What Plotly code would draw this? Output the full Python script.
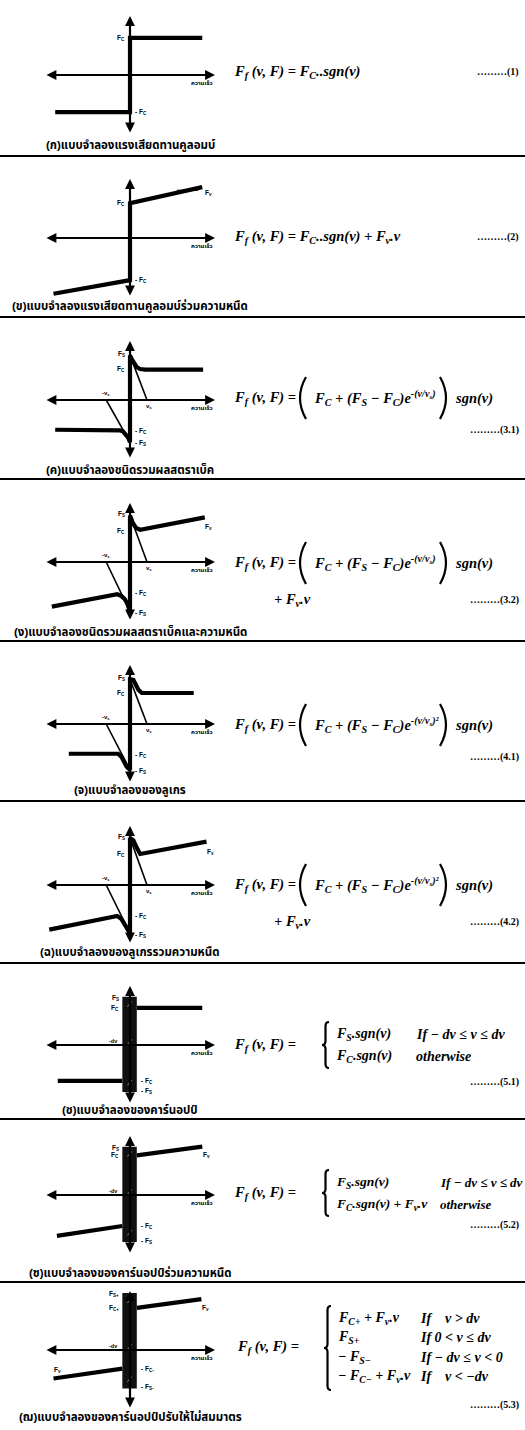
import plotly.graph_objects as go

W, H = 525, 1430

# ---------------------------------------------------------------- data
# velocity (v) and friction force (f) of every model, normalised units
coulomb_v = [-0.88, 0.0, 0.0, 0.85]
coulomb_f = [-0.60, -0.60, 0.60, 0.60]

viscous_v = [-0.90, 0.0, 0.0, 0.85]
viscous_f = [-0.90, -0.68, 0.56, 0.82]

stribeck_v = [-0.88, -0.20, -0.12, -0.08, -0.05, -0.02, 0.0, 0.0, 0.02, 0.05, 0.08, 0.12, 0.18, 0.86]
stribeck_f = [-0.48, -0.48, -0.49, -0.51, -0.55, -0.61, -0.68, 0.72, 0.66, 0.58, 0.53, 0.50, 0.49, 0.49]

stribeck_visc_v = [-0.92, -0.15, -0.10, -0.06, -0.03, 0.0, 0.0, 0.03, 0.07, 0.12, 0.88]
stribeck_visc_f = [-0.72, -0.52, -0.55, -0.60, -0.68, -0.80, 0.75, 0.64, 0.55, 0.52, 0.72]

lugre_v = [-0.72, -0.14, -0.10, -0.07, -0.04, 0.0, 0.0, 0.04, 0.07, 0.10, 0.14, 0.75]
lugre_f = [-0.48, -0.48, -0.53, -0.61, -0.69, -0.74, 0.72, 0.71, 0.64, 0.55, 0.50, 0.50]

lugre_visc_v = [-0.95, -0.15, -0.10, -0.06, -0.03, 0.0, 0.0, 0.04, 0.08, 0.12, 0.90]
lugre_visc_f = [-0.72, -0.50, -0.55, -0.65, -0.73, -0.78, 0.76, 0.72, 0.60, 0.50, 0.70]

# Stribeck velocity construction lines (tangent at v = 0)
tangent_pos_v = [0.0, 0.20]
tangent_neg_v = [-0.28, 0.0]

# Karnopp models: stick band and slip branches
karnopp_band_v = [-0.09, 0.08]
karnopp_band_f = [-0.76, 0.78]
karnopp_neg_v = [-0.85, -0.09]
karnopp_neg_f = [-0.58, -0.58]
karnopp_pos_v = [0.08, 0.85]
karnopp_pos_f = [0.60, 0.60]

karnopp_visc_neg_v = [-0.86, -0.09]
karnopp_visc_neg_f = [-0.66, -0.50]
karnopp_visc_pos_v = [0.08, 0.85]
karnopp_visc_pos_f = [0.64, 0.78]

asym_band_f = [-0.62, 0.92]
asym_neg_v = [-0.90, -0.09]
asym_neg_f = [-0.46, -0.30]
asym_pos_v = [0.08, 0.84]
asym_pos_f = [0.68, 0.82]

captions = [
    "(ก)แบบจำลองแรงเสียดทานคูลอมบ์",
    "(ข)แบบจำลองแรงเสียดทานคูลอมบ์ร่วมความหนืด",
    "(ค)แบบจำลองชนิดรวมผลสตราเบ็ค",
    "(ง)แบบจำลองชนิดรวมผลสตราเบ็คและความหนืด",
    "(จ)แบบจำลองของลูเกร",
    "(ฉ)แบบจำลองของลูเกรรวมความหนืด",
    "(ช)แบบจำลองของคาร์นอปป์",
    "(ซ)แบบจำลองของคาร์นอปป์ร่วมความหนืด",
    "(ฌ)แบบจำลองของคาร์นอปป์ปรับให้ไม่สมมาตร",
]
eq_numbers = ["(1)", "(2)", "(3.1)", "(3.2)", "(4.1)", "(4.2)", "(5.1)", "(5.2)", "(5.3)"]

# ---------------------------------------------------------------- layout helpers
AXIS_Y = [75, 238, 400, 562, 724, 885, 1045, 1195, 1350]   # pixel row of each v-axis
SEPS = [156, 317, 479, 641, 801, 963, 1119, 1282]
CAPTION_BOTTOM = SEPS + [1426]
HALF = 62
SERIF = "Liberation Serif"
SANS = "Liberation Sans, Noto Sans Thai, Noto Sans, DejaVu Sans"


def px(x):
    return x / W


def py(y):
    return 1 - y / H


fig = go.Figure()
annotations = []
shapes = []
layout_axes = {}


def ax_names(i):
    return ("x" if i == 0 else f"x{i + 1}", "y" if i == 0 else f"y{i + 1}")


for i, ay in enumerate(AXIS_Y):
    xr, yr = ax_names(i)
    xk = "xaxis" if i == 0 else f"xaxis{i + 1}"
    yk = "yaxis" if i == 0 else f"yaxis{i + 1}"
    layout_axes[xk] = dict(domain=[px(45), px(215)], range=[-1, 1], visible=False,
                           anchor=yr, fixedrange=True)
    layout_axes[yk] = dict(domain=[py(ay + HALF), py(ay - HALF)], range=[-1, 1],
                           visible=False, anchor=xr, fixedrange=True)
    # double-headed axes
    annotations.append(dict(x=1.0, y=0, ax=-1.0, ay=0, xref=xr, yref=yr, axref=xr, ayref=yr,
                            text="", showarrow=True, arrowhead=2, arrowside="end+start",
                            arrowwidth=2.2, arrowsize=0.9, arrowcolor="black"))
    annotations.append(dict(x=0, y=0.95, ax=0, ay=-0.95, xref=xr, yref=yr, axref=xr, ayref=yr,
                            text="", showarrow=True, arrowhead=2, arrowside="end+start",
                            arrowwidth=2.2, arrowsize=0.9, arrowcolor="black"))
    annotations.append(dict(x=0.02, y=1.03, xref=xr, yref=yr, text="<b>แรงเสียดทาน</b>",
                            showarrow=False, font=dict(family=SANS, size=6, color="black"),
                            xanchor="center", yanchor="bottom"))
    annotations.append(dict(x=1.0, y=-0.05, xref=xr, yref=yr, text="<b>ความเร็ว</b>",
                            showarrow=False, font=dict(family=SANS, size=6, color="black"),
                            xanchor="right", yanchor="top"))
    # caption
    annotations.append(dict(x=px(130), y=py(CAPTION_BOTTOM[i] - 1), xref="paper", yref="paper",
                            text="<b>" + captions[i] + "</b>", showarrow=False,
                            xanchor="center", yanchor="bottom",
                            font=dict(family=SANS, size=11.5, color="black")))


def curve(i, v, f, width=4.2):
    xr, yr = ax_names(i)
    fig.add_trace(go.Scatter(x=v, y=f, xaxis=xr, yaxis=yr, mode="lines",
                             line=dict(color="black", width=width), showlegend=False,
                             hoverinfo="skip"))


def label(i, x, y, s, anchor="center", size=6.5):
    xr, yr = ax_names(i)
    annotations.append(dict(x=x, y=y, xref=xr, yref=yr, text="<b>" + s + "</b>",
                            showarrow=False, xanchor=anchor,
                            font=dict(family=SANS, size=size, color="black")))


# (ก) Coulomb
curve(0, coulomb_v, coulomb_f)
label(0, -0.04, coulomb_f[-1], "F<sub>C</sub>", "right")
label(0, 0.04, coulomb_f[0], "- F<sub>C</sub>", "left")

# (ข) Coulomb + viscous
curve(1, viscous_v, viscous_f)
curve(1, [0.55, 0.80, 0.80], [0.77, 0.77, 0.81], width=1)
label(1, -0.04, viscous_f[2], "F<sub>C</sub>", "right")
label(1, 0.04, viscous_f[1], "- F<sub>C</sub>", "left")
label(1, 0.86, 0.72, "F<sub>v</sub>", "left")

# (ค) (ง) (จ) (ฉ) Stribeck-type models
for i, v, f in [(2, stribeck_v, stribeck_f), (3, stribeck_visc_v, stribeck_visc_f),
                (4, lugre_v, lugre_f), (5, lugre_visc_v, lugre_visc_f)]:
    curve(i, v, f)
    k = v.index(0.0)
    fs_neg, fs_pos = f[k], f[k + 1]
    curve(i, tangent_pos_v, [fs_pos, 0.0], width=1.6)
    curve(i, tangent_neg_v, [0.0, fs_neg], width=1.6)
    label(i, -0.04, fs_pos + 0.02, "F<sub>S</sub>", "right")
    label(i, -0.04, 0.50, "F<sub>C</sub>", "right")
    label(i, 0.04, -0.50, "- F<sub>C</sub>", "left")
    label(i, 0.04, fs_neg - 0.02, "- F<sub>S</sub>", "left")
    label(i, tangent_pos_v[1] + 0.02, -0.1, "v<sub>s</sub>", size=6)
    label(i, tangent_neg_v[0], 0.1, "-v<sub>s</sub>", size=6)
    if i in (3, 5):
        label(i, v[-1] - 0.02, f[-1] - 0.16, "F<sub>v</sub>", "left")

# (ช) (ซ) (ฌ) Karnopp models
karnopp_sets = [
    (6, karnopp_band_f, karnopp_neg_v, karnopp_neg_f, karnopp_pos_v, karnopp_pos_f, False),
    (7, karnopp_band_f, karnopp_visc_neg_v, karnopp_visc_neg_f, karnopp_visc_pos_v, karnopp_visc_pos_f, True),
    (8, asym_band_f, asym_neg_v, asym_neg_f, asym_pos_v, asym_pos_f, True),
]
for i, band_f, nv, nf, pv, pf, visc in karnopp_sets:
    xr, yr = ax_names(i)
    shapes.append(dict(type="rect", xref=xr, yref=yr, x0=karnopp_band_v[0], x1=karnopp_band_v[1],
                       y0=band_f[0], y1=band_f[1], fillcolor="#111111", line=dict(width=0)))
    for hy in (band_f[1] - 0.12, 0.05, band_f[0] + 0.15):
        shapes.append(dict(type="line", xref=xr, yref=yr, x0=-0.03, x1=0.02, y0=hy - 0.04,
                           y1=hy + 0.04, line=dict(color="#9a9a9a", width=1)))
    curve(i, nv, nf)
    curve(i, pv, pf)
    suf_p = "+" if i == 8 else ""
    suf_n = "-" if i == 8 else ""
    label(i, -0.11, band_f[1] - 0.02, "F<sub>S" + suf_p + "</sub>", "right")
    label(i, -0.11, pf[0], "F<sub>C" + suf_p + "</sub>", "right")
    label(i, 0.11, nf[1], "- F<sub>C" + suf_n + "</sub>", "left")
    label(i, 0.11, band_f[0] + 0.02, "- F<sub>S" + suf_n + "</sub>", "left")
    label(i, -0.2, 0.07, "-dv", size=5.5)
    if visc:
        label(i, pv[1] - 0.02, pf[1] - 0.14, "F<sub>v</sub>", "left")
    if i == 8:
        label(i, nv[0] - 0.02, nf[0] + 0.14, "F<sub>v</sub>", "left")

# ---------------------------------------------------------------- equations


def eq(x, y, s, size=14.5, anchor="left"):
    annotations.append(dict(x=px(x), y=py(y), xref="paper", yref="paper",
                            text="<b><i>" + s + "</i></b>",
                            showarrow=False, xanchor=anchor, yanchor="middle",
                            font=dict(family=SERIF, size=size, color="black")))


def number(y, s):
    annotations.append(dict(x=px(521), y=py(y), xref="paper", yref="paper",
                            text="<b>………" + s + "</b>", showarrow=False, xanchor="right",
                            yanchor="middle", font=dict(family=SERIF, size=10, color="black")))


def path_shape(points_px, width=1.8):
    """Build an SVG path (pixel points -> paper coords) for brackets."""
    cmds = []
    for cmd, pts in points_px:
        cmds.append(cmd + " " + " ".join(f"{px(a):.5f},{py(b):.5f}" for a, b in pts))
    shapes.append(dict(type="path", xref="paper", yref="paper", path=" ".join(cmds),
                       line=dict(color="black", width=width)))


def paren(x, yc, half, opening=True, w=6):
    d = w if opening else -w
    path_shape([("M", [(x + d, yc - half)]), ("Q", [(x - d, yc), (x + d, yc + half)])], width=2.2)


def brace(x, ytop, ybot, w=7):
    mid = (ytop + ybot) / 2
    r = 4
    xm = x + w / 2
    path_shape([("M", [(x + w, ytop)]), ("Q", [(xm, ytop), (xm, ytop + r)]),
                ("L", [(xm, mid - r)]), ("Q", [(xm, mid), (x, mid)]),
                ("Q", [(xm, mid), (xm, mid + r)]), ("L", [(xm, ybot - r)]),
                ("Q", [(xm, ybot), (x + w, ybot)])], width=2.2)


LHS = "F<sub>f</sub> (v, F) ="
SGN = "sgn(v)"

eq(232, 72, LHS + " F<sub>C</sub>..sgn(v)")
number(72, eq_numbers[0])

eq(232, 237, LHS + " F<sub>C</sub>..sgn(v) + F<sub>v</sub>.v")
number(237, eq_numbers[1])

stribeck_body = "F<sub>C</sub> + (F<sub>S</sub> − F<sub>C</sub>)e<sup>-(v/v<sub>s</sub>)</sup>"
gauss_body = "F<sub>C</sub> + (F<sub>S</sub> − F<sub>C</sub>)e<sup>-(v/v<sub>s</sub>)²</sup>"
for y, body, extra, num_y, k in [(398, stribeck_body, False, 430, 2),
                                  (563, stribeck_body, True, 600, 3),
                                  (725, gauss_body, False, 757, 4),
                                  (885, gauss_body, True, 922, 5)]:
    eq(232, y, LHS)
    paren(300, y, 21, True)
    eq(312, y, body)
    paren(446, y, 21, False)
    eq(453, y, SGN)
    if extra:
        eq(272, num_y, "+ F<sub>v</sub>.v")
    number(num_y, eq_numbers[k])

# Karnopp piecewise equations
eq(232, 1045, LHS)
brace(322, 1022, 1068)
eq(334, 1034, "F<sub>S</sub>.sgn(v)", size=14)
eq(334, 1056, "F<sub>C</sub>.sgn(v)", size=14)
eq(414, 1034, "If − dv ≤ v ≤ dv", size=14)
eq(414, 1056, "otherwise", size=14)
number(1082, eq_numbers[6])

eq(232, 1193, LHS)
brace(322, 1170, 1216)
eq(334, 1182, "F<sub>S</sub>.sgn(v)", size=13.5)
eq(334, 1204, "F<sub>C</sub>.sgn(v) + F<sub>v</sub>.v", size=13.5)
eq(438, 1182, "If − dv ≤ v ≤ dv", size=13)
eq(438, 1204, "otherwise", size=13)
number(1225, eq_numbers[7])

eq(235, 1347, LHS)
brace(324, 1306, 1390)
rows = [("F<sub>C+</sub> + F<sub>v</sub>.v", "If    v > dv"),
        ("F<sub>S+</sub>", "If 0 < v ≤ dv"),
        ("− F<sub>S−</sub>", "If − dv ≤ v < 0"),
        ("− F<sub>C−</sub> + F<sub>v</sub>.v", "If    v < −dv")]
for r, (a, b) in enumerate(rows):
    eq(336, 1318 + r * 19.5, a, size=14)
    eq(418, 1318 + r * 19.5, b, size=14)
number(1405, eq_numbers[8])

# separators between the models
for s in SEPS:
    shapes.append(dict(type="line", xref="paper", yref="paper", x0=0, x1=1,
                       y0=py(s), y1=py(s), line=dict(color="black", width=2)))

fig.update_layout(width=W, height=H, margin=dict(l=0, r=0, t=0, b=0),
                  paper_bgcolor="white", plot_bgcolor="white",
                  annotations=annotations, shapes=shapes, showlegend=False, **layout_axes)

fig.write_html("out.html")
